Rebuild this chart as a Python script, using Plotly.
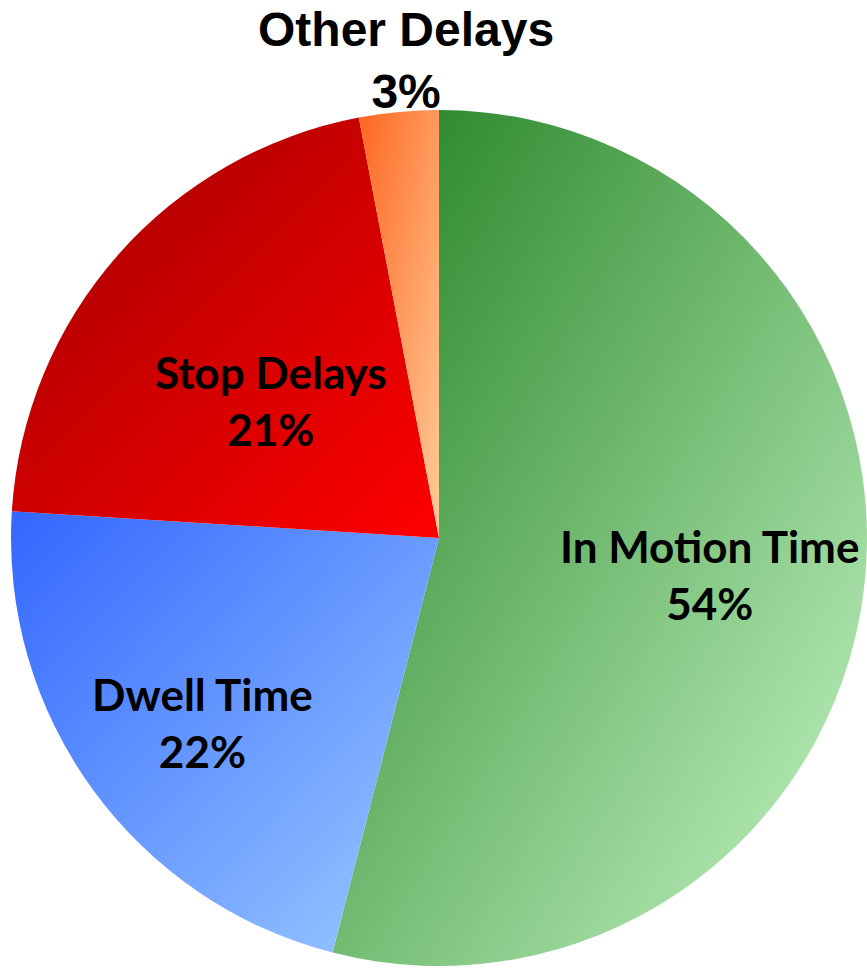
import json
import plotly.graph_objects as go

labels = ["In Motion Time", "Dwell Time", "Stop Delays", "Other Delays"]
values = [54, 22, 21, 3]
base_colors = ["#7cc07c", "#6f9dff", "#d40000", "#ff9a60"]
grad_start = ["#1f801f", "#3366ff", "#a00000", "#ff6620"]
grad_end = ["#c8f7c8", "#9bcbff", "#ff0000", "#ffcc99"]

# label block centres (paper fraction) and fonts
label_pos = [(0.818, 0.406), (0.234, 0.254), (0.313, 0.586), (0.468, 0.938)]
label_font = [
    dict(family="Lato", size=44, color="black", weight="bold"),
    dict(family="Lato", size=44, color="black", weight="bold"),
    dict(family="Lato", size=44, color="black", weight="bold"),
    dict(family="Liberation Sans", size=48, color="black", weight="bold"),
]

fig = go.Figure(go.Pie(
    labels=labels,
    values=values,
    sort=False,
    direction="clockwise",
    rotation=0,
    marker=dict(colors=base_colors, line=dict(width=0)),
    textinfo="none",
    hoverinfo="skip",
    domain=dict(x=[0.0127, 1.0], y=[0.0, 0.8884]),
    showlegend=False,
))

total = sum(values)
for lab, val, (x, y), f in zip(labels, values, label_pos, label_font):
    fig.add_annotation(
        x=x, y=y, xref="paper", yref="paper",
        text=f"{lab}<br>{round(100 * val / total)}%",
        showarrow=False, font=f, xanchor="center", yanchor="middle",
    )

fig.update_layout(
    width=867, height=968,
    margin=dict(l=0, r=0, t=0, b=0),
    paper_bgcolor="white",
    plot_bgcolor="white",
)

js = """
(function(){
document.body.style.margin = '0';
document.body.style.padding = '0';
var gd = document.getElementById('{plot_id}');
var S = %s, E = %s;
function applyGrad(){
  var svg = gd.querySelector('svg.main-svg');
  if(!svg) return;
  var ns = 'http://www.w3.org/2000/svg';
  var defs = svg.querySelector('defs');
  if(!defs){ defs = document.createElementNS(ns,'defs'); svg.insertBefore(defs, svg.firstChild); }
  for(var i=0;i<S.length;i++){
    if(document.getElementById('pg'+i)) continue;
    var g = document.createElementNS(ns,'linearGradient');
    g.setAttribute('id','pg'+i);
    g.setAttribute('x1','0'); g.setAttribute('y1','0');
    g.setAttribute('x2','1'); g.setAttribute('y2','1');
    var s1 = document.createElementNS(ns,'stop');
    s1.setAttribute('offset','0'); s1.setAttribute('stop-color',S[i]);
    var s2 = document.createElementNS(ns,'stop');
    s2.setAttribute('offset','1'); s2.setAttribute('stop-color',E[i]);
    g.appendChild(s1); g.appendChild(s2); defs.appendChild(g);
  }
  var paths = gd.querySelectorAll('g.slice path.surface');
  for(var j=0;j<paths.length;j++){ paths[j].style.fill = 'url(#pg'+j+')'; }
}
applyGrad();
if(gd.on) gd.on('plotly_afterplot', applyGrad);
})();
""" % (json.dumps(grad_start), json.dumps(grad_end))

fig.write_html("out.html", post_script=js, config={"staticPlot": True})
